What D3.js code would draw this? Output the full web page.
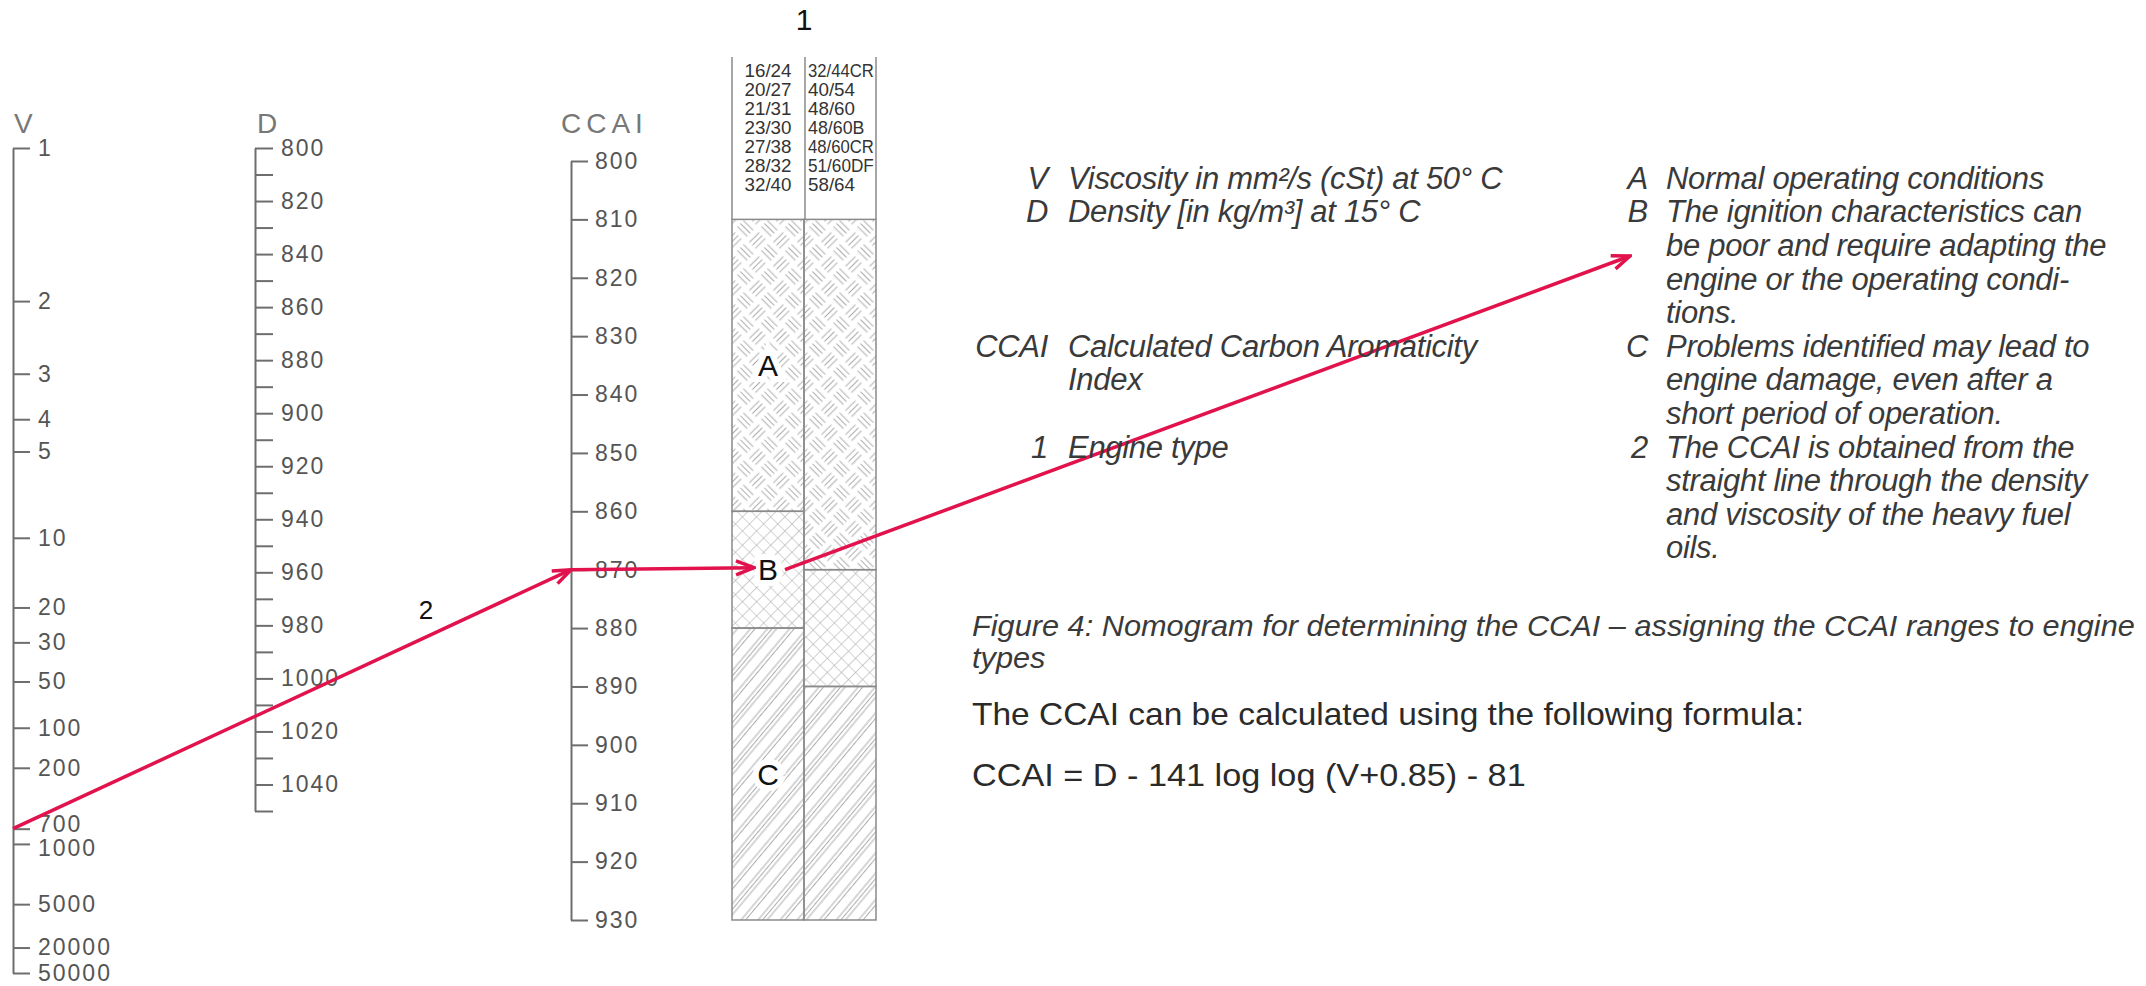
<!DOCTYPE html>
<html>
<head>
<meta charset="utf-8">
<script src="https://cdn.jsdelivr.net/npm/d3@7"></script>
<style>
  body { margin: 0; background: #fff; }
  svg { display: block; font-family: "Liberation Sans", Arial, sans-serif; }
  .axis .tick text { font-size: 23px; fill: #555; letter-spacing: 2px; }
  .axis .tick line, .axis .domain { stroke: #6e6e6e; stroke-width: 2; }
  .title { font-size: 28px; fill: #777; }
  .legend { font-size: 31px; fill: #3a3a3a; font-style: italic; letter-spacing: -0.3px; }
</style>
</head>
<body>
<div id="chart"></div>
<script>
// scale ticks
const vTicks = [1, 2, 3, 4, 5, 10, 20, 30, 50, 100, 200, 700, 1000, 5000, 20000, 50000];
const dMajor = [800, 820, 840, 860, 880, 900, 920, 940, 960, 980, 1000, 1020, 1040];
const dMinor = [810, 830, 850, 870, 890, 910, 930, 950, 970, 990, 1010, 1030, 1050];
const ccaiTicks = [800, 810, 820, 830, 840, 850, 860, 870, 880, 890, 900, 910, 920, 930];

// engine types (column 1 / column 2)
const engineLeft = ['16/24', '20/27', '21/31', '23/30', '27/38', '28/32', '32/40'];
const engineRight = ['32/44CR', '40/54', '48/60', '48/60B', '48/60CR', '51/60DF', '58/64'];

// CCAI limits of the ranges A, B, C in each column
const zoneNames = ['A', 'B', 'C'];
const zonesLeft = [810, 860, 880, 930];
const zonesRight = [810, 870, 890, 930];

// worked example drawn in red
const exampleV = 700;
const exampleCCAI = 870;

const legendLeft = [
  ['V', 'Viscosity in mm²/s (cSt) at 50° C', 0],
  ['D', 'Density [in kg/m³] at 15° C', 1],
  ['CCAI', 'Calculated Carbon Aromaticity', 5],
  ['', 'Index', 6],
  ['1', 'Engine type', 8]
];
const legendRight = [
  ['A', 'Normal operating conditions'],
  ['B', 'The ignition characteristics can'],
  ['', 'be poor and require adapting the'],
  ['', 'engine or the operating condi-'],
  ['', 'tions.'],
  ['C', 'Problems identified may lead to'],
  ['', 'engine damage, even after a'],
  ['', 'short period of operation.'],
  ['2', 'The CCAI is obtained from the'],
  ['', 'straight line through the density'],
  ['', 'and viscosity of the heavy fuel'],
  ['', 'oils.']
];

const width = 2146, height = 986;
const red = '#e2124c';

const svg = d3.select('#chart').append('svg')
  .attr('width', width).attr('height', height);

const defs = svg.append('defs');

// hatch patterns for A, B, C
const hatch = '#adadad';
const pA = defs.append('pattern').attr('id', 'pat0').attr('patternUnits', 'userSpaceOnUse')
  .attr('width', 34).attr('height', 34).attr('patternTransform', 'rotate(45)');
[4.25, 8.5, 12.75].forEach(o => {
  pA.append('line').attr('x1', 1.5).attr('x2', 15.5).attr('y1', o).attr('y2', o);
  pA.append('line').attr('x1', 18.5).attr('x2', 32.5).attr('y1', o + 17).attr('y2', o + 17);
  pA.append('line').attr('y1', 1.5).attr('y2', 15.5).attr('x1', o + 17).attr('x2', o + 17);
  pA.append('line').attr('y1', 18.5).attr('y2', 32.5).attr('x1', o).attr('x2', o);
});
pA.selectAll('line').attr('stroke', hatch).attr('stroke-width', 1);

const pB = defs.append('pattern').attr('id', 'pat1').attr('patternUnits', 'userSpaceOnUse')
  .attr('width', 10).attr('height', 10).attr('patternTransform', 'rotate(45)');
pB.append('path').attr('d', 'M0,0H10M0,0V10').attr('stroke', hatch).attr('stroke-width', 1.2).attr('fill', 'none');

const pC = defs.append('pattern').attr('id', 'pat2').attr('patternUnits', 'userSpaceOnUse')
  .attr('width', 30).attr('height', 30).attr('patternTransform', 'rotate(40)');
[2, 5.5, 9, 19, 22.5].forEach(o => {
  pC.append('line').attr('x1', o).attr('x2', o).attr('y1', 0).attr('y2', 30)
    .attr('stroke', hatch).attr('stroke-width', 1);
});

defs.append('marker').attr('id', 'arrow')
  .attr('viewBox', '0 0 22 18').attr('refX', 20).attr('refY', 9)
  .attr('markerWidth', 22).attr('markerHeight', 18)
  .attr('markerUnits', 'userSpaceOnUse').attr('orient', 'auto')
  .append('path').attr('d', 'M2,2L20,9L2,16')
  .attr('fill', 'none').attr('stroke', red).attr('stroke-width', 3.5);

// scales
const loglog = v => Math.log10(Math.log10(v + 0.85));
const xV = 13, xD = 255, xC = 571;
const yV = d3.scaleLinear().domain([loglog(1), loglog(50000)]).range([148, 973]);
const yD = d3.scaleLinear().domain([800, 1050]).range([148, 811]);
const yC = d3.scaleLinear().domain([800, 930]).range([161, 920]);

const vAxis = svg.append('g').attr('class', 'axis').attr('transform', `translate(${xV},0)`)
  .call(d3.axisRight(yV).tickValues(vTicks.map(loglog))
    .tickFormat((d, i) => vTicks[i]).tickSize(17).tickSizeOuter(0).tickPadding(8));
// the 700 and 1000 labels sit very close; pull them apart a little as in the print
vAxis.selectAll('.tick text').attr('dy', (d, i) => vTicks[i] === 700 ? '0.12em' : vTicks[i] === 1000 ? '0.5em' : '0.32em');

svg.append('g').attr('class', 'axis').attr('transform', `translate(${xD},0)`)
  .call(d3.axisRight(yD).tickValues(dMajor.concat(dMinor))
    .tickFormat(d => dMajor.includes(d) ? d : '').tickSize(18).tickSizeOuter(0).tickPadding(8));

svg.append('g').attr('class', 'axis').attr('transform', `translate(${xC},0)`)
  .call(d3.axisRight(yC).tickValues(ccaiTicks).tickSize(17).tickSizeOuter(0).tickPadding(7));

svg.append('text').attr('class', 'title').attr('x', 14).attr('y', 133).text('V');
svg.append('text').attr('class', 'title').attr('x', 257).attr('y', 133).text('D');
svg.append('text').attr('class', 'title').attr('x', 561).attr('y', 133)
  .attr('letter-spacing', 5).text('CCAI');

// engine type box
const xCol = d3.scaleBand().domain(['left', 'right']).range([732, 876]);
const boxTop = 57;
const box = svg.append('g');
[['left', zonesLeft], ['right', zonesRight]].forEach(([col, z]) => {
  box.selectAll(null).data(zoneNames).join('rect')
    .attr('x', xCol(col)).attr('width', xCol.bandwidth())
    .attr('y', (d, i) => yC(z[i]))
    .attr('height', (d, i) => yC(z[i + 1]) - yC(z[i]))
    .attr('fill', (d, i) => `url(#pat${i})`)
    .attr('stroke', '#8a8a8a').attr('stroke-width', 1.5);
});
box.selectAll(null).data([732, 805, 876]).join('line')
  .attr('x1', d => d).attr('x2', d => d)
  .attr('y1', boxTop).attr('y2', yC(810))
  .attr('stroke', '#8a8a8a').attr('stroke-width', 1.5);

const engFont = 19;
box.selectAll(null).data(engineLeft).join('text')
  .attr('x', xCol('left') + xCol.bandwidth() / 2).attr('y', (d, i) => 70 + i * 19)
  .attr('dy', '0.35em').attr('text-anchor', 'middle')
  .attr('textLength', d => d.length * 9.4).attr('lengthAdjust', 'spacingAndGlyphs')
  .attr('font-size', engFont).attr('fill', '#333').text(d => d);
box.selectAll(null).data(engineRight).join('text')
  .attr('x', xCol('right') + 4).attr('y', (d, i) => 70 + i * 19)
  .attr('dy', '0.35em')
  .attr('textLength', d => d.length * 9.4).attr('lengthAdjust', 'spacingAndGlyphs')
  .attr('font-size', engFont).attr('fill', '#333').text(d => d);

svg.append('text').attr('x', xCol('right')).attr('y', 19).attr('dy', '0.35em')
  .attr('text-anchor', 'middle').attr('font-size', 30).attr('fill', '#111').text('1');

box.selectAll(null).data(zoneNames).join('text')
  .attr('x', xCol('left') + xCol.bandwidth() / 2)
  .attr('y', (d, i) => yC((zonesLeft[i] + zonesLeft[i + 1]) / 2))
  .attr('dy', '0.36em').attr('text-anchor', 'middle')
  .attr('font-size', 30).attr('fill', '#111')
  .attr('stroke', '#fff').attr('stroke-width', 12).attr('paint-order', 'stroke')
  .text(d => d);

// worked example
const yEx = yC(exampleCCAI);
const ex = svg.append('g').attr('stroke', red).attr('stroke-width', 3.5).attr('fill', 'none');
ex.append('line').attr('x1', xV).attr('y1', yV(loglog(exampleV)))
  .attr('x2', xC).attr('y2', yEx).attr('marker-end', 'url(#arrow)');
ex.append('line').attr('x1', xC).attr('y1', yEx)
  .attr('x2', 754).attr('y2', yEx - 2).attr('marker-end', 'url(#arrow)');
ex.append('line').attr('x1', 785).attr('y1', yEx)
  .attr('x2', 1630).attr('y2', 256).attr('marker-end', 'url(#arrow)');
svg.append('text').attr('x', 426).attr('y', 610).attr('dy', '0.35em')
  .attr('text-anchor', 'middle').attr('font-size', 26).attr('fill', '#111').text('2');

// legend text
const rowY = i => 178 + i * 33.6;
const lg = svg.append('g').attr('class', 'legend');
legendLeft.forEach(([k, t, r]) => {
  lg.append('text').attr('x', 1048).attr('y', rowY(r)).attr('dy', '0.35em')
    .attr('text-anchor', 'end').text(k);
  lg.append('text').attr('x', 1068).attr('y', rowY(r)).attr('dy', '0.35em').text(t);
});
legendRight.forEach(([k, t], r) => {
  lg.append('text').attr('x', 1648).attr('y', rowY(r)).attr('dy', '0.35em')
    .attr('text-anchor', 'end').text(k);
  lg.append('text').attr('x', 1666).attr('y', rowY(r)).attr('dy', '0.35em').text(t);
});

// caption and formula, squeezed to a condensed look
function squeezed(lines, x, y0, step, size, italic, targetWidth, color) {
  const g = svg.append('g');
  const texts = lines.map((t, i) => g.append('text').attr('x', 0).attr('y', i * step)
    .attr('dy', '0.35em').attr('font-size', size)
    .attr('font-style', italic ? 'italic' : 'normal').attr('fill', color).text(t));
  const w = texts[0].node().getComputedTextLength();
  g.attr('transform', `translate(${x},${y0}) scale(${targetWidth / w},1)`);
}
squeezed(['Figure 4: Nomogram for determining the CCAI – assigning the CCAI ranges to engine', 'types'],
  972, 625, 33, 30, true, 1163, '#3a3a3a');
squeezed(['The CCAI can be calculated using the following formula:'], 972, 714, 0, 32, false, 832, '#2a2a2a');
squeezed(['CCAI = D - 141 log log (V+0.85) - 81'], 972, 775, 0, 32, false, 554, '#2a2a2a');
</script>
</body>
</html>
